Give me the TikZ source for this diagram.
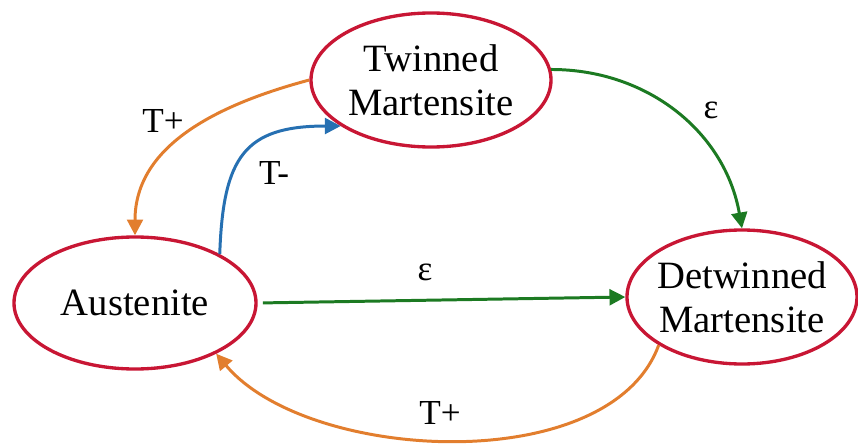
\documentclass[tikz,border=0pt]{standalone}
\usepackage{fontspec}
\setmainfont{Liberation Serif}
\usetikzlibrary{arrows.meta,shapes.geometric}

\definecolor{ringred}{RGB}{200,22,52}
\definecolor{heatorange}{RGB}{226,126,46}
\definecolor{coolblue}{RGB}{38,112,178}
\definecolor{straingreen}{RGB}{28,122,34}

\tikzset{
  phase/.style={draw=ringred, line width=1.9pt, ellipse, align=center,
    inner xsep=-2pt, inner ysep=0pt, font=\fontsize{22}{25}\selectfont},
  lbl/.style={font=\fontsize{20}{24}\selectfont},
  link/.style={line width=1.7pt, -{Triangle[length=9pt,width=9pt]}}
}

\begin{document}
\begin{tikzpicture}
    \useasboundingbox (0,0) rectangle (17.16,8.88);

    % phases
    \node[phase, minimum width=4.8cm, minimum height=2.68cm] (twin) at (8.62, 7.28) {Twinned\\Martensite};
    \node[phase, minimum width=4.84cm, minimum height=2.64cm] (aus) at (2.70, 2.82) {Austenite};
    \node[phase, minimum width=4.6cm, minimum height=2.68cm] (detw) at (14.84, 2.94) {Detwinned\\Martensite};

    % labels
    \node[lbl] (heatA) at (3.26, 6.46) {T+};
    \node[lbl] (coolA) at (5.48, 5.42) {T-};
    \node[lbl] (loadA) at (14.22, 6.68) {ε};
    \node[lbl] (loadB) at (8.50, 3.44) {ε};
    \node[lbl] (heatB) at (8.80, 0.62) {T+};

    % transformations
    \draw[link, heatorange] (twin.west) to[out=195, in=90] (aus.north);
    \draw[link, coolblue] (aus.30) to[out=88, in=180, looseness=1.4] (twin.207);
    \draw[link, straingreen] (twin.5) to[out=0, in=100] (detw.north);
    \draw[link, straingreen, shorten <=3pt] (aus.east) -- (detw.west);
    \draw[link, heatorange] (detw.210) to[out=250, in=-50, looseness=0.82] (aus.-32);
\end{tikzpicture}
\end{document}
